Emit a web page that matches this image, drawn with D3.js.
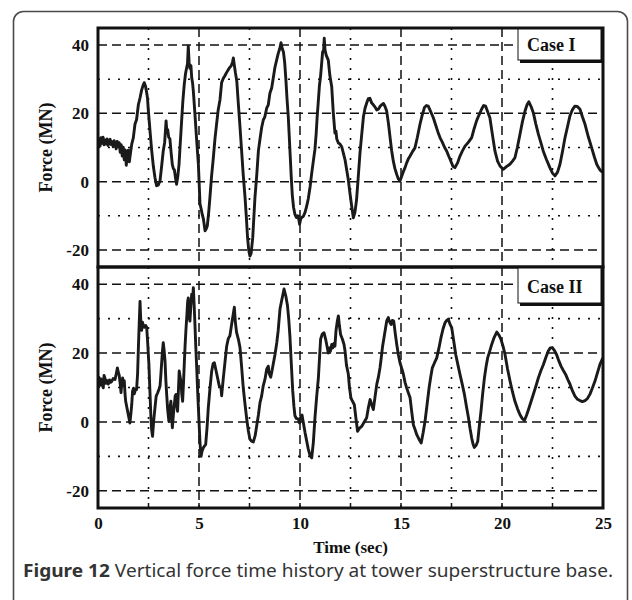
<!DOCTYPE html>
<html><head><meta charset="utf-8">
<script src="https://cdn.jsdelivr.net/npm/d3@7"></script>
<style>html,body{margin:0;padding:0;background:#fff}svg{display:block}</style>
</head><body>
<svg id="chart" width="632" height="600"></svg>
<script>
// ---- data ----
const caseI_time = [0,0.05,0.1,0.15,0.2,0.25,0.3,0.35,0.4,0.45,0.5,0.55,0.6,0.65,0.7,0.75,0.8,0.85,0.9,0.95,1,1.05,1.1,1.15,1.2,1.25,1.3,1.35,1.4,1.45,1.5,1.55,1.6,1.67,1.75,1.83,1.91,2,2.08,2.16,2.22,2.29,2.35,2.41,2.45,2.49,2.58,2.66,2.74,2.82,2.9,2.98,3.07,3.15,3.23,3.3,3.34,3.37,3.41,3.45,3.5,3.56,3.62,3.68,3.73,3.78,3.84,3.89,3.95,4.01,4.07,4.14,4.2,4.27,4.33,4.39,4.43,4.47,4.51,4.55,4.6,4.64,4.68,4.72,4.8,4.88,4.97,5.05,5.1,5.16,5.22,5.3,5.36,5.41,5.48,5.54,5.62,5.71,5.79,5.87,5.95,6.04,6.12,6.2,6.28,6.37,6.45,6.53,6.6,6.66,6.7,6.74,6.8,6.87,6.95,7.03,7.11,7.19,7.28,7.34,7.4,7.46,7.52,7.58,7.66,7.72,7.77,7.86,7.94,8.02,8.1,8.18,8.26,8.35,8.43,8.51,8.6,8.68,8.76,8.84,8.92,9,9.06,9.12,9.18,9.24,9.3,9.36,9.42,9.47,9.52,9.57,9.62,9.68,9.75,9.82,9.88,9.94,9.98,10.03,10.08,10.16,10.25,10.33,10.41,10.5,10.58,10.66,10.74,10.8,10.85,10.9,10.96,11.02,11.07,11.12,11.17,11.2,11.24,11.3,11.4,11.48,11.57,11.65,11.73,11.78,11.82,11.9,11.98,12.06,12.14,12.23,12.31,12.39,12.48,12.56,12.64,12.72,12.8,12.88,12.97,13.05,13.14,13.22,13.3,13.38,13.46,13.55,13.63,13.71,13.8,13.88,13.96,14.04,14.13,14.21,14.29,14.38,14.46,14.54,14.62,14.7,14.79,14.87,14.95,15.03,15.12,15.2,15.28,15.36,15.45,15.57,15.69,15.81,15.94,16.05,16.16,16.26,16.35,16.47,16.6,16.72,16.83,16.93,17.05,17.16,17.26,17.36,17.47,17.57,17.67,17.8,17.92,18.04,18.17,18.33,18.5,18.62,18.74,18.86,18.99,19.09,19.19,19.29,19.4,19.52,19.65,19.78,19.9,20.06,20.22,20.39,20.52,20.64,20.76,20.89,21.01,21.14,21.24,21.33,21.44,21.55,21.67,21.8,21.92,22.04,22.2,22.37,22.5,22.62,22.75,22.87,23,23.12,23.24,23.36,23.48,23.61,23.73,23.86,23.98,24.11,24.28,24.44,24.57,24.69,24.8,24.9,25];
const caseI_force = [11.5,12.6,10.4,12.9,11.2,13,10.8,12.2,11,12.5,10.6,11.9,12.4,10.9,11.7,10.2,12,11.1,9.6,11.8,10.3,11.4,8.6,10.8,7.5,10.1,6.4,9.3,4.8,8.2,9.2,5.8,8,11,12.9,16.8,18.2,22.6,24.5,26.8,28,29,28,26,24.5,21,14.5,9,4.5,1.2,-1.2,-1,0.2,4.5,9,11.5,15,17.8,14.5,15.2,13,12.5,8.5,5,3.8,3.5,1,-0.8,1.5,5,11,17.8,23.5,28.5,31.5,33.4,34.5,39.7,35,33.2,34,30.4,29,26.5,19.7,12.5,5,-6.6,-7.8,-9.6,-11,-14.4,-13.8,-13,-9,-4.7,1.5,7,12.5,16.8,21,24,29,30.2,31,32,32.8,33.5,34,35,36.2,34.5,32,29.5,22.6,16,9,2,-4.7,-10,-16,-20,-21.8,-21,-16.4,-10,-4.7,2,9,12.5,15.8,18,19,21.5,22.5,25.9,27.5,30.5,33.5,35.5,37.5,39,40.7,39,38,35,30,24,19,13,7,1,-4,-7.5,-9.6,-10.5,-10,-11,-12.5,-11,-10.5,-10.2,-9,-7.2,-5,-1.5,2.5,6,9.5,14,19,23,28,31,34.5,38,38.5,42,38.5,37,35.6,31,27.8,20,14.2,14.8,12.5,11.3,11,10.3,8.5,6.4,3.5,0.6,-3.7,-7.2,-10.6,-9,-5.3,1,8.4,13.5,19,21.5,23,24.3,24.4,23,22.5,21.9,21,21.2,22,22.5,22.9,22,20.7,17,12.9,9,6,3.8,2.1,0.8,0.2,1.5,3,4.1,5.5,6.6,7.5,8.8,9.9,13,16.8,19.5,21.7,22.3,22.1,20.5,18.7,16.5,14.5,12.9,11.5,10,9,7.5,6,4.5,4.1,5.5,7.5,9,10.4,11.5,12.9,15.5,17.8,19.5,21.2,22.3,22.1,20.5,18.7,14,9,6,4.6,3.6,4.4,5.1,6,7,10,13.9,17.5,20.7,22.5,23.4,22,20.2,17,13.9,11.5,9,6.5,4.1,2.5,1.7,2.8,5.1,9,12.9,16,19.2,21,22.1,22,21.2,19,16.8,13,9.9,7.3,5.1,3.9,3.1,2.8];

const caseII_time = [0,0.05,0.1,0.15,0.2,0.26,0.3,0.35,0.4,0.45,0.51,0.57,0.62,0.68,0.75,0.84,0.9,0.96,1,1.05,1.1,1.14,1.18,1.22,1.26,1.3,1.34,1.37,1.42,1.47,1.52,1.58,1.63,1.67,1.71,1.76,1.8,1.86,1.91,1.96,2,2.04,2.08,2.12,2.16,2.2,2.24,2.3,2.36,2.41,2.46,2.52,2.57,2.62,2.66,2.7,2.76,2.82,2.88,2.95,3.02,3.07,3.11,3.15,3.19,3.23,3.27,3.32,3.36,3.4,3.45,3.51,3.56,3.61,3.65,3.68,3.73,3.78,3.82,3.86,3.9,3.94,3.98,4.02,4.07,4.11,4.15,4.19,4.23,4.27,4.31,4.35,4.4,4.44,4.47,4.51,4.55,4.59,4.64,4.68,4.72,4.76,4.8,4.84,4.88,4.94,5,5.05,5.1,5.15,5.21,5.27,5.33,5.4,5.46,5.54,5.63,5.7,5.76,5.84,5.92,6,6.09,6.12,6.2,6.28,6.37,6.45,6.53,6.62,6.7,6.75,6.8,6.86,6.95,7.03,7.11,7.19,7.28,7.36,7.44,7.52,7.6,7.69,7.78,7.86,7.94,8.02,8.1,8.18,8.27,8.35,8.43,8.48,8.55,8.62,8.68,8.76,8.85,8.92,9.01,9.1,9.21,9.3,9.38,9.44,9.5,9.56,9.64,9.7,9.75,9.82,9.92,9.97,10.04,10.1,10.16,10.25,10.33,10.41,10.5,10.58,10.66,10.74,10.82,10.91,10.97,11.02,11.1,11.19,11.27,11.35,11.4,11.45,11.5,11.57,11.62,11.68,11.73,11.78,11.84,11.9,11.95,12.01,12.1,12.18,12.23,12.3,12.39,12.45,12.52,12.6,12.69,12.77,12.85,12.95,13.05,13.18,13.3,13.38,13.47,13.55,13.63,13.72,13.8,13.88,13.96,14.02,14.08,14.16,14.24,14.3,14.37,14.44,14.51,14.57,14.64,14.72,14.79,14.87,14.95,15.04,15.12,15.2,15.28,15.36,15.45,15.53,15.61,15.7,15.78,15.89,16,16.1,16.19,16.29,16.39,16.47,16.55,16.66,16.77,16.88,16.98,17.08,17.18,17.26,17.34,17.42,17.51,17.61,17.71,17.82,17.92,18.03,18.14,18.24,18.34,18.42,18.5,18.57,18.63,18.72,18.8,18.88,18.96,19.04,19.13,19.21,19.29,19.39,19.49,19.61,19.74,19.85,19.95,20.05,20.15,20.27,20.4,20.52,20.64,20.77,20.89,21,21.11,21.22,21.34,21.47,21.6,21.7,21.8,21.92,22.05,22.17,22.29,22.39,22.49,22.6,22.7,22.81,22.92,23.03,23.15,23.26,23.37,23.49,23.61,23.73,23.86,23.98,24.11,24.23,24.35,24.47,24.6,24.72,24.85,24.96,25];
const caseII_force = [11.8,12.9,10.6,12.5,11,9.9,13.5,12.6,11.2,12,11,12.2,11.5,11.8,12.6,12.3,13.8,15.7,14.5,13.6,11,8.5,11.5,12.8,10.5,12,8,6,4.5,3,1.5,-0.3,2.5,5,8.9,9.8,8.2,9.5,9.4,14,21.6,28.5,35,29,26.6,29,28.2,27.5,28,27.5,23,16.7,9,1.2,-2.5,-4.2,0.5,4.1,7.5,8.4,9.5,10.4,13.5,17,20.5,23,21,17.5,12,8,3.5,0.2,4,6,2,-1.7,2,5,7.5,8,5,3.1,9,14.8,13,11.5,8,6,11,16.7,22,26.4,31,35,36,31,29.3,33,37.1,35,39,34,28.3,22,16.7,8,0.2,-6,-10,-8.5,-7.6,-7,-6.6,-1.5,4.1,9.5,14.8,17,17.2,15,12.8,10.5,9.9,7.6,12.5,17,22,24.2,25,28.5,31.5,33.3,29,26,24,21.6,16,10,5,1,-2.5,-5,-5.6,-5.8,-4,-1,2,5.6,7.5,10.5,12.5,15.3,16.2,14,13,15,17,19.5,23,26.5,32.8,35.5,38.6,36.5,33.8,30,25,18,9,4.5,1.8,1,0.8,-0.3,1.5,2,0,-3.1,-5.5,-7.9,-9.8,-10.4,-6,1.2,7,12.8,19,24,25.5,25.9,24,21.6,20,21.5,20.5,22.5,21.5,22.8,22,26.4,29,30.8,28,25.4,24,22.5,20.6,16.5,14,10,7,6,5,1,-2.7,-1.8,-1.3,0,1.2,4,6.5,5,3.6,7.5,10.9,13,15.7,18.5,21.6,24.5,27.4,29.5,30.3,29,28.3,29.5,29.3,25.5,22.5,19.5,17.2,15.5,13.8,11.5,9.9,8.5,7,3,-0.8,-2.3,-3.7,-5,-6.1,-3,0.2,5,9.9,13,15.7,17.2,18.6,21.5,24.5,27,28.8,29.5,29.8,28.5,27.4,23.5,19.6,16.5,13.8,11,8,4.5,1.2,-2,-4.7,-6.5,-7.4,-6.8,-5.6,-1,3.1,8,12.8,16,18.6,20.5,22.5,24.5,26.1,25.2,24,22,19.6,15.5,11.8,8.7,6,3.8,2.1,1,0.4,2,4.1,6.5,8.9,10.8,12.8,14.8,16.7,18.7,20.6,21.5,21.6,20.7,19.6,17.8,16.2,15,13.8,12.3,10.9,9,7.5,6.6,6.2,5.9,6.2,6.8,8,9.8,11.8,14.2,16.7,18.2,18.6];

const xTickValues = [0,5,10,15,20,25];
const yTickValues = [-20,0,20,40];
const xMinorGrid = [2.5,7.5,12.5,17.5,22.5];
const yMinorGrid = [-10,10,30];
const panelLabels = ["Case I","Case II"];
const xTitle = "Time (sec)";
const yTitle = "Force (MN)";
const captionBold = "Figure 12";
const captionText = " Vertical force time history at tower superstructure base.";

// ---- layout ----
const svg = d3.select("#chart");
const L = 98, R = 603;
const panels = [{top:28, bottom:267}, {top:267, bottom:508}];
const serif = "'Liberation Serif','Times New Roman',serif";

// outer rounded frame
svg.append("rect").attr("x",13.5).attr("y",11.5).attr("width",614).attr("height",620)
  .attr("rx",10).attr("fill","none").attr("stroke","#4a4a4a").attr("stroke-width",1.6);

const x = d3.scaleLinear().domain([0,25]).range([L,R]);
const series = [
  caseI_time.map((t,i)=>[t, caseI_force[i]]),
  caseII_time.map((t,i)=>[t, caseII_force[i]])
];

panels.forEach((p, k) => {
  const y = d3.scaleLinear().domain([-25,45]).range([p.bottom, p.top]);
  const g = svg.append("g");
  const clipId = "clip"+k;
  svg.append("clipPath").attr("id",clipId).append("rect")
    .attr("x",L).attr("y",p.top).attr("width",R-L).attr("height",p.bottom-p.top);
  const grid = g.append("g").attr("clip-path",`url(#${clipId})`);
  xTickValues.filter(v=>v>0 && v<25).forEach(v=>{
    grid.append("line").attr("x1",x(v)).attr("x2",x(v)).attr("y1",p.top).attr("y2",p.bottom)
      .attr("stroke","#111").attr("stroke-width",1.5).attr("stroke-dasharray","9,5");
  });
  yTickValues.forEach(v=>{
    grid.append("line").attr("x1",L).attr("x2",R).attr("y1",y(v)).attr("y2",y(v))
      .attr("stroke","#111").attr("stroke-width",1.5).attr("stroke-dasharray","9,5");
  });
  xMinorGrid.forEach(v=>{
    grid.append("line").attr("x1",x(v)).attr("x2",x(v)).attr("y1",p.top).attr("y2",p.bottom)
      .attr("stroke","#111").attr("stroke-width",1.6).attr("stroke-dasharray","2,8");
  });
  yMinorGrid.forEach(v=>{
    grid.append("line").attr("x1",L).attr("x2",R).attr("y1",y(v)).attr("y2",y(v))
      .attr("stroke","#111").attr("stroke-width",1.6).attr("stroke-dasharray","2,8");
  });
  const line = d3.line().x(d=>x(d[0])).y(d=>y(d[1])).curve(d3.curveLinear);
  grid.append("path").datum(series[k]).attr("d",line).attr("fill","none")
    .attr("stroke","#1a1a1a").attr("stroke-width",2.9).attr("stroke-linejoin","round");
  const yAxis = d3.axisLeft(y).tickValues(yTickValues).tickSize(0).tickPadding(9).tickFormat(d=>String(d));
  const ya = g.append("g").attr("transform",`translate(${L},0)`).call(yAxis);
  ya.select(".domain").remove();
  ya.selectAll("text").attr("font-family",serif).attr("font-weight","bold").attr("font-size",17).attr("fill","#111");
  g.append("text").attr("transform",`translate(52,${(y(-20)+y(40))/2}) rotate(-90)`)
    .attr("text-anchor","middle").attr("font-family",serif).attr("font-weight","bold")
    .attr("font-size",18).attr("fill","#111").text(yTitle);
  const bx = 518, by = p.top, bw = R-bx, bh = k===0 ? 33 : 37;
  g.append("rect").attr("x",bx+2).attr("y",by+2).attr("width",bw-2).attr("height",bh).attr("fill","#111");
  g.append("rect").attr("x",bx).attr("y",by).attr("width",bw-2).attr("height",bh-1)
    .attr("fill","#fff").attr("stroke","#111").attr("stroke-width",1);
  g.append("text").attr("x",bx+9).attr("y",by+(k===0?22.5:26)).attr("font-family",serif)
    .attr("font-weight","bold").attr("font-size",18).attr("fill","#111").text(panelLabels[k]);
  g.append("rect").attr("x",L).attr("y",p.top).attr("width",R-L).attr("height",p.bottom-p.top)
    .attr("fill","none").attr("stroke","#111").attr("stroke-width",3);
});

const xb = panels[1].bottom;
const xAxis = d3.axisBottom(x).tickValues(xTickValues).tickSize(0).tickPadding(9).tickFormat(d=>String(d));
const xa = svg.append("g").attr("transform",`translate(0,${xb})`).call(xAxis);
xa.select(".domain").remove();
xa.selectAll("text").attr("font-family",serif).attr("font-weight","bold").attr("font-size",17).attr("fill","#111");
d3.range(2.5,25,2.5).forEach(v=>{
  svg.append("line").attr("x1",x(v)).attr("x2",x(v)).attr("y1",xb).attr("y2",xb-5)
    .attr("stroke","#111").attr("stroke-width",1.5);
});
svg.append("text").attr("x",(L+R)/2).attr("y",553).attr("text-anchor","middle")
  .attr("font-family",serif).attr("font-weight","bold").attr("font-size",17).attr("fill","#111").text(xTitle);

const cap = svg.append("text").attr("x",23).attr("y",577).attr("font-family","'Noto Sans','Open Sans',sans-serif")
  .attr("font-size",18).attr("fill","#333").attr("textLength",590).attr("lengthAdjust","spacingAndGlyphs");
cap.append("tspan").attr("font-weight","bold").text(captionBold);
cap.append("tspan").text(captionText);
</script>
</body></html>
